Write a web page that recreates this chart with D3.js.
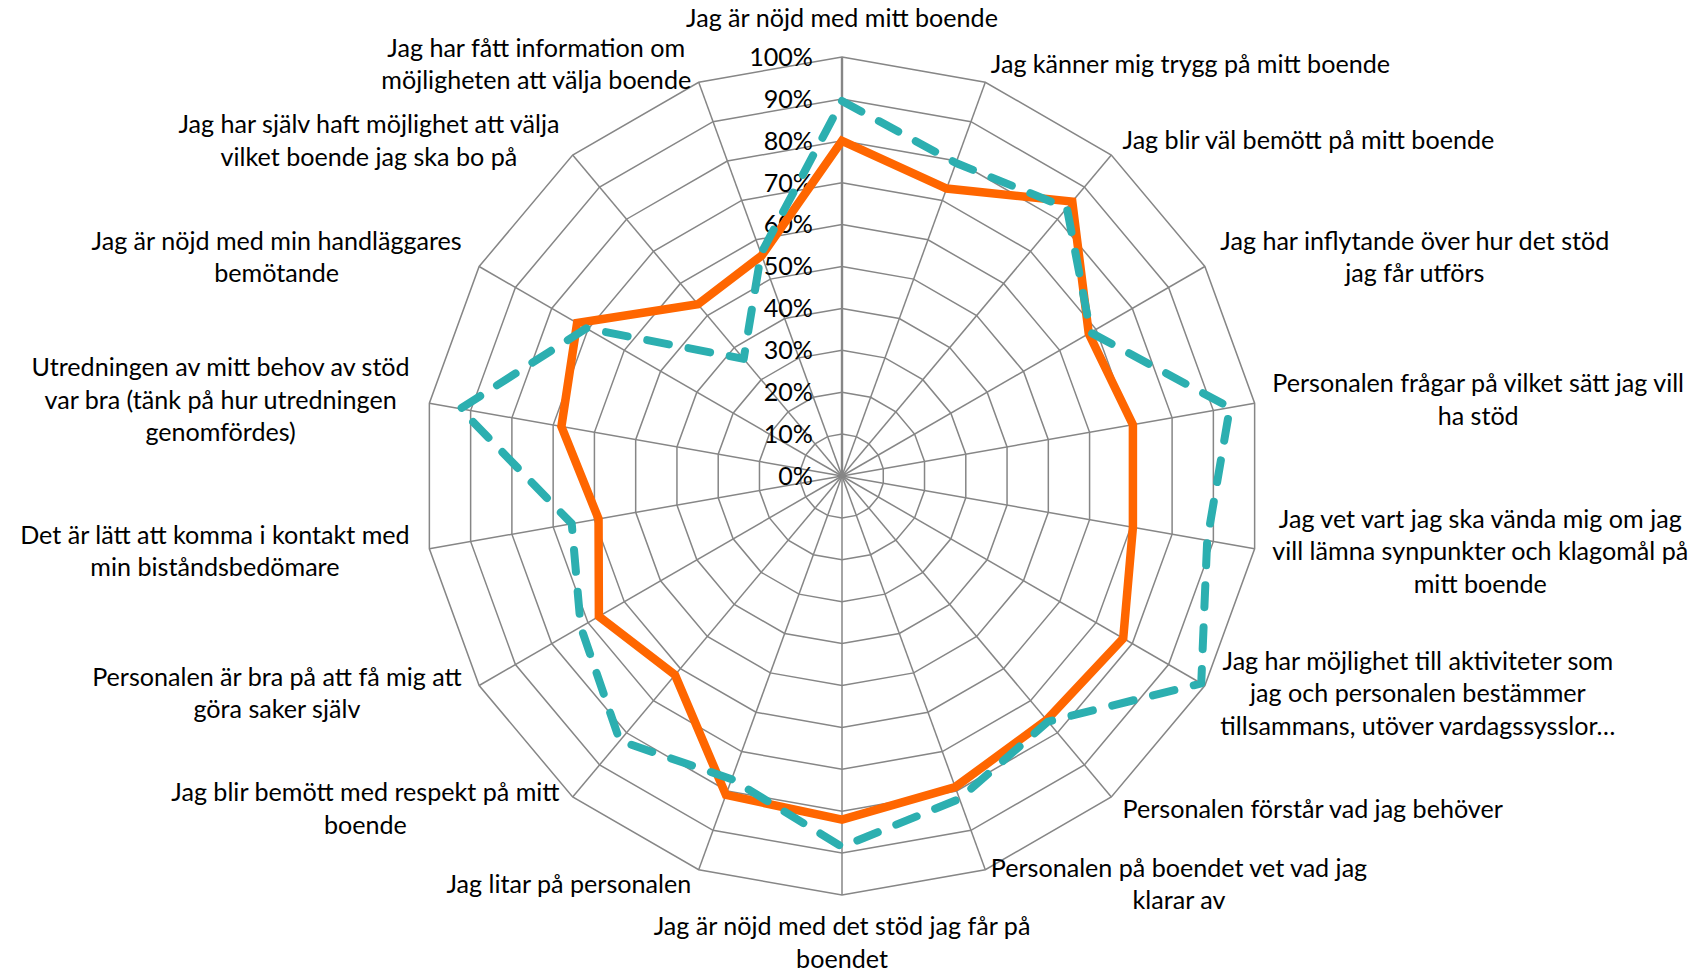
<!DOCTYPE html>
<html>
<head>
<meta charset="utf-8">
<script src="https://cdn.jsdelivr.net/npm/d3@7"></script>
<style>
  body { margin: 0; background: #fff; }
</style>
</head>
<body>
<svg id="chart" width="1695" height="972"></svg>
<script>
// category labels, "\n" marks the line breaks used in the original
const categories = [
  "Jag är nöjd med mitt boende",
  "Jag känner mig trygg på mitt boende",
  "Jag blir väl bemött på mitt boende",
  "Jag har inflytande över hur det stöd\njag får utförs",
  "Personalen frågar på vilket sätt jag vill\nha stöd",
  "Jag vet vart jag ska vända mig om jag\nvill lämna synpunkter och klagomål på\nmitt boende",
  "Jag har möjlighet till aktiviteter som\njag och personalen bestämmer\ntillsammans, utöver vardagssysslor…",
  "Personalen förstår vad jag behöver",
  "Personalen på boendet vet vad jag\nklarar av",
  "Jag är nöjd med det stöd jag får på\nboendet",
  "Jag litar på personalen",
  "Jag blir bemött med respekt på mitt\nboende",
  "Personalen är bra på att få mig att\ngöra saker själv",
  "Det är lätt att komma i kontakt med\nmin biståndsbedömare",
  "Utredningen av mitt behov av stöd\nvar bra (tänk på hur utredningen\ngenomfördes)",
  "Jag är nöjd med min handläggares\nbemötande",
  "Jag har själv haft möjlighet att välja\nvilket boende jag ska bo på",
  "Jag har fått information om\nmöjligheten att välja boende"
];

// solid orange series
const seriesOrange = [0.80, 0.73, 0.855, 0.68, 0.705, 0.705, 0.775, 0.76, 0.79,
                      0.82, 0.81, 0.62, 0.67, 0.59, 0.68, 0.73, 0.535, 0.56];
// dashed teal series
const seriesTeal = [0.895, 0.795, 0.835, 0.685, 0.94, 0.885, 0.99, 0.765, 0.82,
                    0.885, 0.77, 0.825, 0.72, 0.655, 0.925, 0.705, 0.365, 0.565];

const tickValues = [0, 0.1, 0.2, 0.3, 0.4, 0.5, 0.6, 0.7, 0.8, 0.9, 1];

const svg = d3.select("#chart");
const cx = 842, cy = 476, R = 419;
const FONT = "Lato, 'Open Sans', sans-serif";
const gridColor = "#868686";
const lineH = 32.5;

const n = categories.length;
const angle = d3.scaleLinear([0, n], [0, 2 * Math.PI]);
const r = d3.scaleLinear([0, 1], [0, R]);

// font size picked so the top label gets the width it has in the original
const probe = svg.append("text").attr("font-family", FONT).attr("font-size", 100).text(categories[0]);
const fs = 100 * 312 / probe.node().getComputedTextLength();
probe.remove();

const g = svg.append("g").attr("transform", `translate(${cx},${cy})`);

const ring = d3.lineRadial()
  .angle((d, i) => angle(i))
  .radius(d => r(d))
  .curve(d3.curveLinearClosed);

// rings
g.append("g")
    .attr("fill", "none")
    .attr("stroke", gridColor)
    .attr("stroke-width", 1.5)
  .selectAll("path")
  .data(tickValues.slice(1))
  .join("path")
    .attr("d", v => ring(categories.map(() => v)));

// spokes
g.append("g")
    .attr("stroke", gridColor)
    .attr("stroke-width", 1.5)
  .selectAll("line")
  .data(categories)
  .join("line")
    .attr("x1", 0).attr("y1", 0)
    .attr("x2", (d, i) => r(1) * Math.sin(angle(i)))
    .attr("y2", (d, i) => -r(1) * Math.cos(angle(i)));

// value axis
g.append("line")
  .attr("x1", 0).attr("y1", 0)
  .attr("x2", 0).attr("y2", -r(1))
  .attr("stroke", gridColor)
  .attr("stroke-width", 2.4);

// tick labels
g.append("g")
    .attr("font-family", FONT)
    .attr("font-size", fs)
    .attr("fill", "#000")
    .attr("text-anchor", "end")
  .selectAll("text")
  .data(tickValues)
  .join("text")
    .attr("x", -29)
    .attr("y", v => -r(v))
    .attr("dy", "0.35em")
    .text(d3.format(".0%"));

// category labels
const gap = 19;
g.append("g")
    .attr("font-family", FONT)
    .attr("font-size", fs)
    .attr("fill", "#000")
  .selectAll("g")
  .data(categories)
  .join("g")
  .each(function(d, i) {
    const lines = d.split("\n");
    const t = d3.select(this).selectAll("text").data(lines).join("text")
      .attr("text-anchor", "middle")
      .attr("dy", "0.35em")
      .text(l => l);
    const w = d3.max(t.nodes(), nd => nd.getComputedTextLength());
    const h = lines.length * lineH;
    const s = Math.sin(angle(i)), c = -Math.cos(angle(i));
    let mx, my;
    if (Math.abs(s) < 1e-6) {
      mx = 0;
      my = c < 0 ? -(r(1) + 22.5) - h / 2 : r(1) + 15 + h / 2;
    } else {
      const px = (r(1) + gap) * s, py = (r(1) + gap) * c;
      mx = s > 0 ? px - 1 + w / 2 : px - 1 - w / 2;
      my = c > 0 ? py - 3.5 * c : py;
    }
    t.attr("x", mx).attr("y", (l, j) => my + (j - (lines.length - 1) / 2) * lineH);
  });

// series
g.append("path")
  .datum(seriesOrange)
  .attr("fill", "none")
  .attr("stroke", "#FF6600")
  .attr("stroke-width", 8.5)
  .attr("stroke-linejoin", "miter")
  .attr("d", ring);

g.append("path")
  .datum(seriesTeal)
  .attr("fill", "none")
  .attr("stroke", "#2CAFB0")
  .attr("stroke-width", 8)
  .attr("stroke-linecap", "round")
  .attr("stroke-linejoin", "round")
  .attr("stroke-dasharray", "22 20")
  .attr("d", ring);
</script>
</body>
</html>
